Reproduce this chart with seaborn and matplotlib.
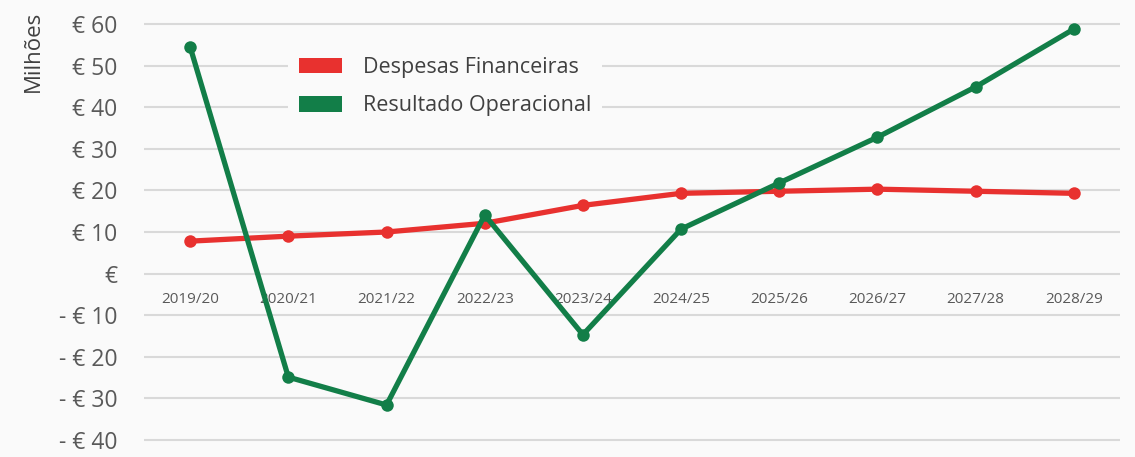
import pandas as pd
import seaborn as sns
import matplotlib.pyplot as plt
from matplotlib.patches import Patch
from matplotlib.ticker import FuncFormatter

# data (millions of euros)
seasons = ["2019/20", "2020/21", "2021/22", "2022/23", "2023/24",
           "2024/25", "2025/26", "2026/27", "2027/28", "2028/29"]
despesas = [7.8, 9.0, 10.0, 12.1, 16.4, 19.3, 19.8, 20.3, 19.8, 19.3]
resultado = [54.5, -24.9, -31.6, 14.1, -14.7, 10.7, 21.8, 32.8, 44.9, 58.8]
series_names = ["Despesas Financeiras", "Resultado Operacional"]
colors = ["#E8312F", "#127E48"]

df = pd.DataFrame({
    "Época": seasons * 2,
    "Valor": despesas + resultado,
    "Série": [series_names[0]] * len(seasons) + [series_names[1]] * len(seasons),
})

bg = "#FAFAFA"
sns.set_theme(style="white")
plt.rcParams["font.family"] = ["Open Sans", "DejaVu Sans"]

fig = plt.figure(figsize=(11.35, 4.57), dpi=100, facecolor=bg)
ax = fig.add_axes([144 / 1135, 1 - 442 / 457, (1120 - 144) / 1135, 420 / 457])
ax.set_facecolor(bg)

sns.lineplot(data=df, x="Época", y="Valor", hue="Série", hue_order=series_names,
             palette=colors, marker="o", markersize=9, markeredgewidth=0,
             linewidth=3.8, sort=False, legend=False, ax=ax)

ax.set_xlim(-0.47, len(seasons) - 0.53)
ax.set_ylim(-40.5, 60.5)
ax.set_yticks(range(-40, 61, 10))


def euro(v, pos):
    v = int(round(v))
    if v == 0:
        return "€"
    if v < 0:
        return f"- € {abs(v)}"
    return f"€ {v}"


ax.yaxis.set_major_formatter(FuncFormatter(euro))
ax.grid(axis="y", color="#D9D9D9", linewidth=1.5)
ax.set_axisbelow(True)
for s in ax.spines.values():
    s.set_visible(False)
ax.spines["bottom"].set_position(("data", 0))

ax.tick_params(axis="y", length=0, labelsize=16.5, labelcolor="#595959", pad=19)
ax.tick_params(axis="x", length=0, labelsize=11, labelcolor="#595959", pad=13)

ax.set_xlabel("")
ax.set_ylabel("Milhões", fontsize=16, color="#404040")
ax.yaxis.set_label_coords(-0.103, 0.93)

handles = [Patch(facecolor=c, edgecolor="none") for c in colors]
leg = ax.legend(handles, series_names, loc="upper left",
                bbox_to_anchor=(0.137, 0.968), frameon=True,
                facecolor=bg, edgecolor="none", framealpha=1,
                fontsize=15.5, handlelength=2.0, handleheight=0.75,
                handletextpad=0.95, labelspacing=0.8, borderpad=0.5)
for t in leg.get_texts():
    t.set_color("#404040")

plt.savefig("out.png", dpi=100, facecolor=bg)
